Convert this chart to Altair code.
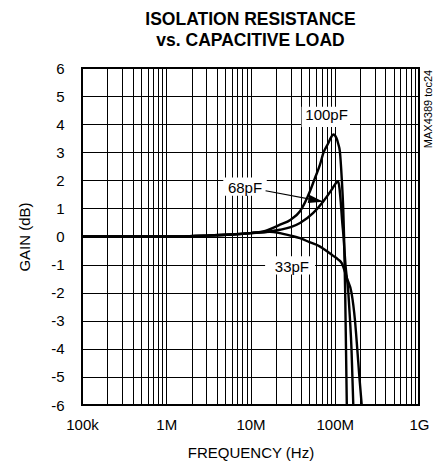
import altair as alt
import pandas as pd

# ---- data ----
f100 = [0.1, 0.3, 1, 3, 6, 10, 15, 22.4, 30, 38.7, 50.8, 58, 66.8, 73, 84, 90, 96, 105, 110, 115, 121, 126, 129, 133, 136, 139]
g100 = [0, 0, 0, 0.03, 0.07, 0.12, 0.2, 0.42, 0.6, 0.9, 1.61, 2.07, 2.56, 2.96, 3.33, 3.52, 3.63, 3.5, 3.3, 3.03, 2.08, 1.01, 0, -2, -4, -6]

f68 = [0.1, 0.3, 1, 3, 6, 10, 17, 22.4, 30, 38.7, 55.6, 73, 92, 102, 110, 114, 118, 122, 127, 134, 145, 152, 158, 162, 166]
g68 = [0, 0, 0, 0.03, 0.07, 0.12, 0.18, 0.24, 0.33, 0.48, 0.84, 1.25, 1.67, 1.88, 1.96, 1.7, 1.2, 0.6, 0, -1, -2, -3, -4, -5, -6]

f33 = [0.1, 0.3, 1, 3, 6, 10, 17, 22.4, 29, 38.7, 50, 67, 77, 95, 110, 121, 140, 158, 174, 185, 196, 209]
g33 = [0, 0, 0, 0.03, 0.07, 0.12, 0.17, 0.12, 0.04, -0.06, -0.2, -0.36, -0.48, -0.68, -0.82, -0.95, -1.5, -2, -3, -4, -5, -6]

x_ticks = [1e5, 1e6, 1e7, 1e8, 1e9]
x_tick_labels = ["100k", "1M", "10M", "100M", "1G"]
y_ticks = list(range(-6, 7))

label_text = ["100pF", "68pF", "33pF"]
label_f = [80, 8.6, 31]          # MHz
label_g = [4.31, 1.72, -1.07]
box_f1 = [40.4, 4.75, 14.9]
box_f2 = [151.7, 15.6, 58.4]
box_g1 = [3.9, 1.45, -1.35]
box_g2 = [4.62, 2.1, -0.7]

arrow_f = [15.1, 73]   # MHz, start -> tip
arrow_g = [1.63, 1.24]

# ---- tables ----
rows = []
for name, fs, gs in [("100pF", f100, g100), ("68pF", f68, g68), ("33pF", f33, g33)]:
    for i, (f, g) in enumerate(zip(fs, gs)):
        rows.append({"series": name, "freq": f * 1e6, "gain": g, "order": i})
curves = pd.DataFrame(rows)

labels = pd.DataFrame({
    "text": label_text,
    "freq": [v * 1e6 for v in label_f],
    "gain": label_g,
    "f1": [v * 1e6 for v in box_f1],
    "f2": [v * 1e6 for v in box_f2],
    "g1": box_g1,
    "g2": box_g2,
})
arrow = pd.DataFrame({"freq": [arrow_f[0] * 1e6], "gain": [arrow_g[0]],
                      "freq2": [arrow_f[1] * 1e6], "gain2": [arrow_g[1]]})

grid_vals = []
for d in [1e5, 1e6, 1e7, 1e8]:
    for m in range(1, 10):
        grid_vals.append(d * m)
grid_vals.append(1e9)

label_expr = " : ".join(
    [f"datum.value == {v:.0f} ? '{t}'" for v, t in zip(x_ticks, x_tick_labels)]
) + " : ''"

FONT = "Liberation Sans, Arial, sans-serif"
FS = 15

xscale = alt.Scale(type="log", domain=[1e5, 1e9], nice=False)
yscale = alt.Scale(domain=[-6, 6], nice=False, zero=False)

xaxis = alt.Axis(values=grid_vals, labelExpr=label_expr, title="FREQUENCY (Hz)",
                 grid=True, ticks=False, domain=False, labelPadding=12,
                 titlePadding=13, labelFlush=False, labelOverlap=False,
                 gridColor="black", gridOpacity=1, gridWidth=1,
                 labelFont=FONT, labelFontSize=FS, labelColor="black",
                 titleFont=FONT, titleFontSize=FS, titleFontWeight="normal", titleColor="black")
yaxis = alt.Axis(values=y_ticks, labelExpr="'' + datum.value", title="GAIN (dB)",
                 grid=True, ticks=False, domain=False, labelPadding=18,
                 titlePadding=18, labelOverlap=False, labelFlush=False,
                 gridColor="black", gridOpacity=1, gridWidth=1,
                 labelFont=FONT, labelFontSize=FS, labelColor="black",
                 titleFont=FONT, titleFontSize=FS, titleFontWeight="normal", titleColor="black")

lines = alt.Chart(curves).mark_line(color="black", strokeWidth=2.4, interpolate="monotone", clip=True).encode(
    x=alt.X("freq:Q", scale=xscale, axis=xaxis),
    y=alt.Y("gain:Q", scale=yscale, axis=yaxis),
    detail="series:N",
    order="order:Q",
)

boxes = alt.Chart(labels).mark_rect(color="white").encode(
    x=alt.X("f1:Q", scale=xscale, axis=xaxis), x2="f2:Q",
    y=alt.Y("g1:Q", scale=yscale, axis=yaxis), y2="g2:Q",
)

texts = alt.Chart(labels).mark_text(font=FONT, fontSize=FS, color="black",
                                    align="center", baseline="middle").encode(
    x=alt.X("freq:Q", scale=xscale, axis=xaxis),
    y=alt.Y("gain:Q", scale=yscale, axis=yaxis), text="text:N"
)

arrow_line = alt.Chart(arrow).mark_rule(color="black", strokeWidth=1.2).encode(
    x=alt.X("freq:Q", scale=xscale, axis=xaxis), y=alt.Y("gain:Q", scale=yscale, axis=yaxis),
    x2="freq2:Q", y2="gain2:Q",
)

arrow_head = alt.Chart(arrow).mark_point(
    shape="M0,0L-2,-0.55L-2,0.55Z", filled=True, color="black", opacity=1,
    size=225, angle=10.8
).encode(x=alt.X("freq2:Q", scale=xscale, axis=xaxis),
         y=alt.Y("gain2:Q", scale=yscale, axis=yaxis))

note = alt.Chart(pd.DataFrame({"t": ["MAX4389 toc24"]})).mark_text(
    font=FONT, fontSize=11, angle=270,
    align="center", baseline="middle", color="black"
).encode(x=alt.value(347), y=alt.value(41), text="t:N")

chart = alt.layer(lines, boxes, texts, arrow_line, arrow_head, note).properties(
    width=337, height=337,
    background="white",
    title=alt.TitleParams(["ISOLATION RESISTANCE", "vs. CAPACITIVE LOAD"],
                          font=FONT, fontSize=17.5, fontWeight="bold",
                          anchor="middle", lineHeight=21, offset=12, color="black"),
    autosize=alt.AutoSizeParams(type="none"),
    padding={"left": 74, "top": 60, "right": 17, "bottom": 61},
).configure_view(stroke="black", strokeWidth=2)

chart.save("out.html", embed_options={"renderer": "svg", "actions": False})
